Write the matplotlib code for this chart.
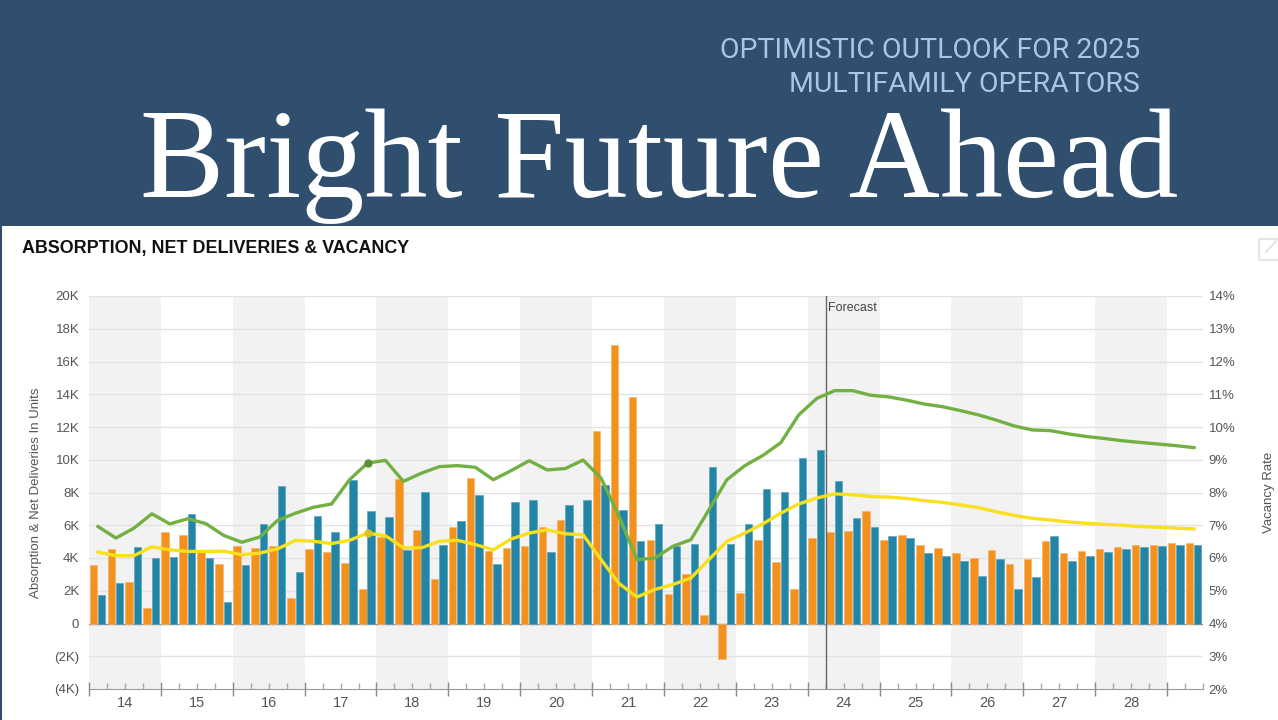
import numpy as np
import matplotlib
matplotlib.use("Agg")
import matplotlib.pyplot as plt
from matplotlib.patches import Rectangle
from matplotlib.lines import Line2D

# Data (quarterly, 2014 Q1 .. 2029 Q2)
years = [str(y) for y in range(14, 29)]
forecast_start = 41  # quarter index where the forecast begins

deliveries = [3550, 4570, 2560, 930, 5580, 5380, 4350, 3610,
              4710, 4630, 4710, 1580, 4570, 4370, 3680, 2110,
              5300, 8830, 5730, 2740, 5890, 8890, 4410, 4590,
              4750, 5890, 6340, 5200, 11740, 16990, 13850, 5120,
              1790, 3000, 510, -2170, 1870, 5120, 3780, 2090,
              5200, 5580, 5620, 6880, 5120, 5420, 4810, 4590,
              4300, 4020, 4510, 3650, 3920, 5020, 4300, 4430,
              4550, 4690, 4770, 4810, 4910, 4910]

absorption = [1730, 2500, 4650, 4020, 4060, 6660, 4020, 1320,
              3570, 6070, 8410, 3150, 6580, 5560, 8790, 6900,
              6500, 4510, 8060, 4800, 6290, 7840, 3630, 7450,
              7550, 4390, 7210, 7570, 8430, 6920, 5040, 6090,
              4710, 4830, 9580, 4830, 6050, 8200, 8040, 10090,
              10620, 8730, 6440, 5890, 5360, 5220, 4320, 4140,
              3820, 2920, 3960, 2130, 2840, 5360, 3820, 4140,
              4370, 4530, 4650, 4730, 4790, 4790]

vacancy_market = [6.96, 6.61, 6.91, 7.35, 7.04, 7.20, 7.05, 6.69, 6.48, 6.64,
                  7.15, 7.37, 7.55, 7.65, 8.39, 8.90, 8.98, 8.34, 8.59, 8.79,
                  8.82, 8.77, 8.39, 8.67, 8.97, 8.69, 8.73, 8.99, 8.44, 7.27,
                  5.95, 6.00, 6.36, 6.56, 7.47, 8.39, 8.82, 9.13, 9.52, 10.37,
                  10.87, 11.11, 11.11, 10.97, 10.92, 10.82, 10.70, 10.62, 10.50, 10.37,
                  10.21, 10.03, 9.91, 9.89, 9.79, 9.71, 9.65, 9.58, 9.53, 9.48,
                  9.43, 9.37]

vacancy_other = [6.18, 6.07, 6.07, 6.34, 6.25, 6.20, 6.20, 6.21, 6.10, 6.15,
                 6.28, 6.54, 6.51, 6.44, 6.54, 6.76, 6.68, 6.31, 6.31, 6.51,
                 6.54, 6.41, 6.25, 6.58, 6.76, 6.86, 6.74, 6.71, 5.95, 5.22,
                 4.81, 5.04, 5.19, 5.39, 5.95, 6.51, 6.76, 7.04, 7.37, 7.65,
                 7.83, 7.96, 7.93, 7.88, 7.86, 7.82, 7.75, 7.70, 7.62, 7.54,
                 7.41, 7.30, 7.21, 7.16, 7.10, 7.06, 7.03, 7.00, 6.96, 6.94,
                 6.91, 6.89]

highlight = 15  # hovered point

ORANGE = "#f3911f"
BLUE = "#2285a6"
GREEN = "#72b043"
YELLOW = "#f8e01c"
NAVY = "#304e6e"
TXT = "#555555"

W, H = 1278, 720
fig = plt.figure(figsize=(W / 100, H / 100), dpi=100)
fig.patch.set_facecolor("white")

# header band
fig.add_artist(Rectangle((0, 1 - 226 / H), 1, 226 / H, transform=fig.transFigure,
                         facecolor=NAVY, edgecolor="none", zorder=0))
fig.add_artist(Line2D([0.5 / W, 0.5 / W], [0, 1 - 226 / H], transform=fig.transFigure,
                      color=NAVY, lw=1.5))

fig.text(1140 / W, 1 - 58 / H, "OPTIMISTIC OUTLOOK FOR 2025", ha="right", va="baseline",
         color="#a9c7e3", fontsize=20.5, family="Roboto")
fig.text(1140 / W, 1 - 92 / H, "MULTIFAMILY OPERATORS", ha="right", va="baseline",
         color="#a9c7e3", fontsize=20.5, family="Roboto")
fig.text(140 / W, 1 - 197 / H, "Bright Future Ahead", ha="left", va="baseline",
         color="white", fontsize=91, family="Liberation Serif")

fig.text(22 / W, 1 - 248 / H, "ABSORPTION, NET DELIVERIES & VACANCY", ha="left", va="center",
         color="#111111", fontsize=12.9, family="Liberation Sans", fontweight="bold")

# expand icon (top right)
fig.add_artist(Rectangle((1259 / W, 1 - 260 / H), 22 / W, 21 / H, transform=fig.transFigure,
                         facecolor="none", edgecolor="#e4e4e4", lw=1.5))
fig.add_artist(Line2D([1266 / W, 1276 / W], [1 - 252 / H, 1 - 241 / H], transform=fig.transFigure,
                      color="#e4e4e4", lw=1.5))

# chart
ax = fig.add_axes([89 / W, 1 - 689 / H, 1114 / W, 393 / H])
n = len(deliveries)
q = np.arange(n)

ax.set_xlim(0, n)
ax.set_ylim(-4000, 20000)

for i in range(0, len(years), 2):
    ax.axvspan(i * 4, i * 4 + 4, color="#f2f2f2", zorder=0, lw=0)
for v in range(-2000, 20001, 2000):
    ax.axhline(v, color="#e3e3e3" if v != 0 else "#8c8c8c", lw=1, zorder=0.5)

ax.bar(q + 0.24, deliveries, width=0.42, color=ORANGE, edgecolor="#f7b46a", lw=0.5, zorder=2)
ax.bar(q + 0.705, absorption, width=0.42, color=BLUE, edgecolor="#5aa5bf", lw=0.5, zorder=2)

ax.axvline(forecast_start, color="#666666", lw=1, zorder=3)
ax.text(forecast_start + 0.15, 19250, "Forecast", color="#444444", fontsize=9,
        family="Liberation Sans", va="center", ha="left", zorder=4)

for s in ["top", "left", "right"]:
    ax.spines[s].set_visible(False)
ax.spines["bottom"].set_color("#999999")

def kfmt(v):
    if v == 0:
        return "0"
    if v < 0:
        return f"({-v // 1000}K)"
    return f"{v // 1000}K"

yt = list(range(-4000, 20001, 2000))
ax.set_yticks(yt)
ax.set_yticklabels([kfmt(v) for v in yt])
ax.tick_params(axis="y", length=0, pad=7, labelsize=9.5, labelcolor=TXT)
for lab in ax.get_yticklabels():
    lab.set_family("Liberation Sans")

ax.set_xticks(np.arange(0, n + 1, 4))
ax.set_xticks(np.arange(0, n + 1, 1), minor=True)
ax.set_xticklabels([])
ax.tick_params(axis="x", which="major", direction="inout", length=10, width=1, color="#888888")
ax.tick_params(axis="x", which="minor", direction="in", length=4, width=1, color="#aaaaaa")
for i, y in enumerate(years):
    ax.text(i * 4 + 2, -0.035, y, transform=ax.get_xaxis_transform(), ha="center", va="center",
            fontsize=10.5, color=TXT, family="Liberation Sans")

ax.set_ylabel("Absorption & Net Deliveries In Units", fontsize=9.5, color=TXT,
              family="Liberation Sans", labelpad=9)

ax2 = ax.twinx()
ax2.set_ylim(2, 14)
ax2.set_yticks(range(2, 15))
ax2.set_yticklabels([f"{v}%" for v in range(2, 15)])
ax2.tick_params(axis="y", length=0, pad=4, labelsize=9.5, labelcolor=TXT)
for lab in ax2.get_yticklabels():
    lab.set_family("Liberation Sans")
for s in ["top", "left", "right", "bottom"]:
    ax2.spines[s].set_visible(False)
ax2.set_ylabel("Vacancy Rate", fontsize=9.5, color=TXT, family="Liberation Sans", labelpad=20)

ax2.plot(q + 0.5, vacancy_market, color=GREEN, lw=2.4, zorder=5, solid_joinstyle="round")
ax2.plot(q + 0.5, vacancy_other, color=YELLOW, lw=2.4, zorder=5, solid_joinstyle="round")
ax2.plot(highlight + 0.5, vacancy_market[highlight], "o", ms=5, color="#5a8f38", zorder=6)
ax2.plot(highlight + 0.5, vacancy_other[highlight], "o", ms=5, color="#d8c41c", zorder=6)

fig.savefig("out.png", dpi=100)
